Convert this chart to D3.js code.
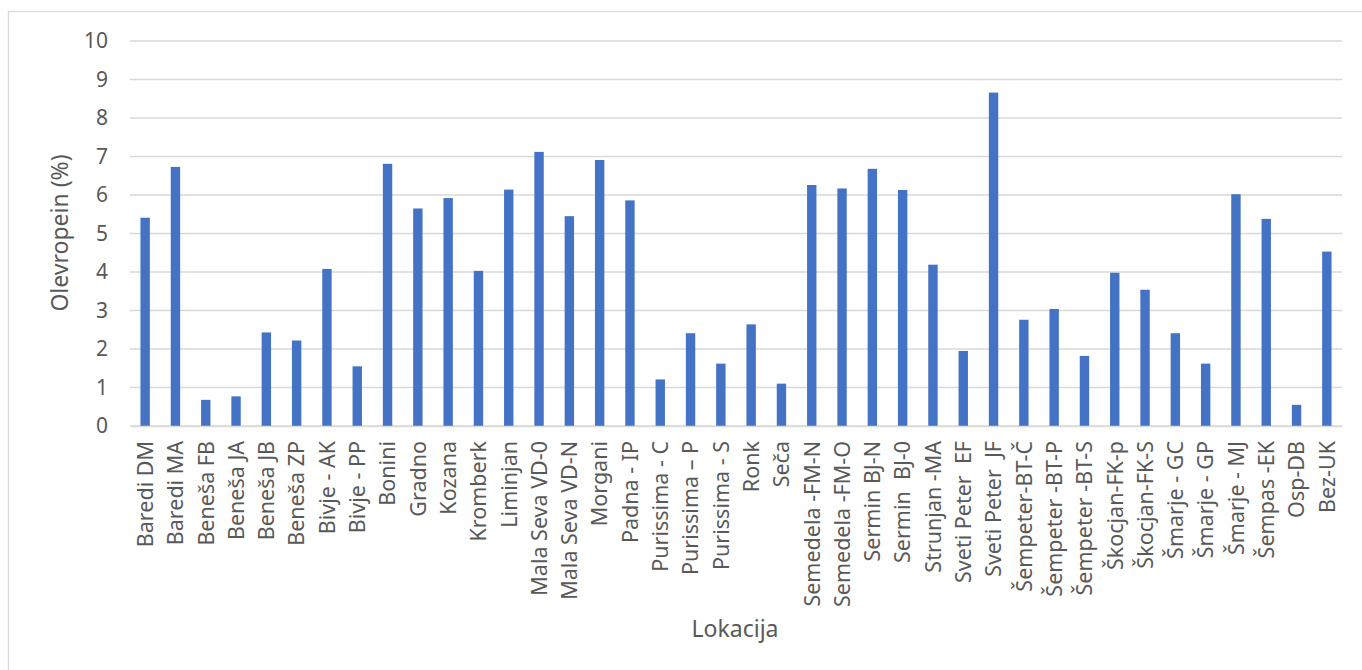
<!DOCTYPE html>
<html>
<head>
<meta charset="utf-8">
<script src="https://cdn.jsdelivr.net/npm/d3@7"></script>
<style>
  html, body { margin: 0; padding: 0; background: #ffffff; }
  svg { display: block; }
  text { font-family: "Noto Sans", "Open Sans", sans-serif; fill: #595959; }
</style>
</head>
<body>
<svg id="chart" width="1362" height="670"></svg>
<script>
// Olevropein content by sampling location
const locations = [
  "Baredi DM", "Baredi MA", "Beneša FB", "Beneša JA", "Beneša JB", "Beneša ZP",
  "Bivje - AK", "Bivje - PP", "Bonini", "Gradno", "Kozana", "Kromberk", "Liminjan",
  "Mala Seva VD-0", "Mala Seva VD-N", "Morgani", "Padna - IP", "Purissima - C",
  "Purissima – P", "Purissima - S", "Ronk", "Seča", "Semedela -FM-N", "Semedela -FM-O",
  "Sermin BJ-N", "Sermin  BJ-0", "Strunjan -MA", "Sveti Peter  EF", "Sveti Peter  JF",
  "Šempeter-BT-Č", "Šempeter -BT-P", "Šempeter -BT-S", "Škocjan-FK-p", "Škocjan-FK-S",
  "Šmarje - GC", "Šmarje - GP", "Šmarje - MJ", "Šempas -EK", "Osp-DB", "Bez-UK"
];
const olevropein = [
  5.41, 6.73, 0.68, 0.77, 2.43, 2.22,
  4.08, 1.55, 6.81, 5.65, 5.92, 4.03, 6.14,
  7.12, 5.45, 6.91, 5.86, 1.21,
  2.41, 1.62, 2.64, 1.10, 6.26, 6.17,
  6.68, 6.13, 4.19, 1.95, 8.66,
  2.76, 3.04, 1.82, 3.98, 3.54,
  2.41, 1.62, 6.02, 5.38, 0.55, 4.53
];
const yTicks = [0, 1, 2, 3, 4, 5, 6, 7, 8, 9, 10];
const yTitle = "Olevropein (%)";
const xTitle = "Lokacija";

const svg = d3.select("#chart");

// chart frame
svg.append("rect")
  .attr("x", 8.5).attr("y", 11.5)
  .attr("width", 1362).attr("height", 670)
  .attr("fill", "#ffffff")
  .attr("stroke", "#d9d9d9").attr("stroke-width", 1.3);

const plot = { left: 130, right: 1342, top: 41, bottom: 426 };

const x = d3.scaleBand()
  .domain(locations)
  .range([plot.left, plot.right])
  .paddingInner(0.69)
  .paddingOuter(0.345);

const y = d3.scaleLinear()
  .domain([0, 10])
  .range([plot.bottom, plot.top]);

// horizontal gridlines
svg.append("g")
  .selectAll("line")
  .data(yTicks)
  .join("line")
  .attr("x1", plot.left).attr("x2", plot.right)
  .attr("y1", d => y(d)).attr("y2", d => y(d))
  .attr("stroke", "#d9d9d9").attr("stroke-width", 1.3);

// y axis labels
const yAxis = d3.axisLeft(y).tickValues(yTicks).tickSize(0).tickPadding(0);
const gy = svg.append("g")
  .attr("transform", `translate(${plot.left - 22},0)`)
  .call(yAxis);
gy.select(".domain").remove();
gy.selectAll("text")
  .attr("font-size", 21)
  .attr("fill", "#595959")
  .style("font-family", "'Noto Sans', sans-serif");

// bars
svg.append("g")
  .selectAll("rect")
  .data(locations)
  .join("rect")
  .attr("x", d => x(d))
  .attr("width", x.bandwidth())
  .attr("y", (d, i) => y(olevropein[i]))
  .attr("height", (d, i) => y(0) - y(olevropein[i]))
  .attr("fill", "#4472c4");

// x axis baseline and rotated category labels
const xAxis = d3.axisBottom(x).tickSize(0).tickPadding(0);
const gx = svg.append("g")
  .attr("transform", `translate(0,${plot.bottom})`)
  .call(xAxis);
gx.select(".domain")
  .attr("stroke", "#d9d9d9").attr("stroke-width", 1.3);
gx.selectAll("text")
  .attr("font-size", 21.5)
  .attr("fill", "#595959")
  .style("font-family", "'Noto Sans', sans-serif")
  .style("white-space", "pre")
  .attr("text-anchor", "end")
  .attr("transform", "translate(0,15) rotate(-90)")
  .attr("x", 0).attr("y", 0).attr("dy", "0.36em");

// axis titles
svg.append("text")
  .attr("transform", `translate(68,233) rotate(-90)`)
  .attr("text-anchor", "middle")
  .attr("font-size", 23)
  .text(yTitle);

svg.append("text")
  .attr("x", 735).attr("y", 637)
  .attr("text-anchor", "middle")
  .attr("font-size", 23)
  .text(xTitle);
</script>
</body>
</html>
